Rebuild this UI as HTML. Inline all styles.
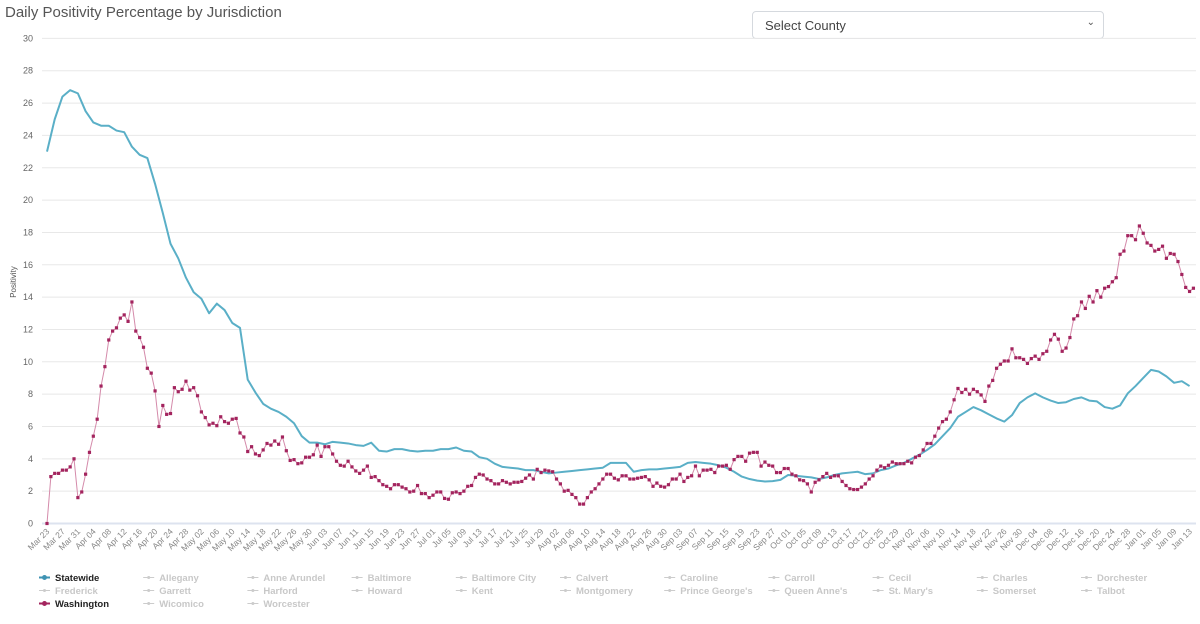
<!DOCTYPE html>
<html><head><meta charset="utf-8">
<style>
body{margin:0;background:#fff;width:1200px;height:624px;overflow:hidden;font-family:"Liberation Sans",sans-serif;position:relative}
#title{position:absolute;left:5px;top:4px;font-size:15px;color:#555}
#sel{position:absolute;left:752px;top:11px;width:352px;height:28px;border:1px solid #d5d9de;border-radius:4px;box-sizing:border-box;font-size:13px;color:#444;padding:6px 12px;background:#fff}
#sel span.c{position:absolute;right:8px;top:5px;font-size:10px;color:#555}
svg{position:absolute;left:0;top:0}
</style></head><body>
<div id="title">Daily Positivity Percentage by Jurisdiction</div>
<div id="sel">Select County<span class="c">&#8964;</span></div>
<svg id="chart" width="1200" height="624"></svg>
<script>
const yTicks=[0,2,4,6,8,10,12,14,16,18,20,22,24,26,28,30];
const xTickLabels=["Mar 23","Mar 27","Mar 31","Apr 04","Apr 08","Apr 12","Apr 16","Apr 20","Apr 24","Apr 28","May 02","May 06","May 10","May 14","May 18","May 22","May 26","May 30","Jun 03","Jun 07","Jun 11","Jun 15","Jun 19","Jun 23","Jun 27","Jul 01","Jul 05","Jul 09","Jul 13","Jul 17","Jul 21","Jul 25","Jul 29","Aug 02","Aug 06","Aug 10","Aug 14","Aug 18","Aug 22","Aug 26","Aug 30","Sep 03","Sep 07","Sep 11","Sep 15","Sep 19","Sep 23","Sep 27","Oct 01","Oct 05","Oct 09","Oct 13","Oct 17","Oct 21","Oct 25","Oct 29","Nov 02","Nov 06","Nov 10","Nov 14","Nov 18","Nov 22","Nov 26","Nov 30","Dec 04","Dec 08","Dec 12","Dec 16","Dec 20","Dec 24","Dec 28","Jan 01","Jan 05","Jan 09","Jan 13"];
// statewide: one value every 2 days starting Mar 23
const statewide=[23.0,25.0,26.4,26.8,26.6,25.5,24.8,24.6,24.6,24.3,24.2,23.3,22.8,22.6,21.0,19.2,17.3,16.4,15.2,14.3,13.9,13.0,13.6,13.2,12.4,12.1,8.9,8.1,7.4,7.1,6.9,6.6,6.2,5.4,5.0,5.0,4.9,5.05,5.0,4.95,4.85,4.8,5.0,4.5,4.45,4.6,4.6,4.5,4.45,4.5,4.5,4.6,4.6,4.7,4.5,4.45,4.1,4.0,3.7,3.5,3.45,3.4,3.3,
3.3,3.2,3.1,3.15,3.2,3.25,3.3,3.35,3.4,3.45,3.75,3.75,3.75,3.2,3.3,3.35,3.35,3.4,3.45,3.5,3.75,3.8,3.75,3.7,3.6,3.45,3.2,2.9,2.75,2.65,2.6,2.62,2.7,3.0,2.95,2.9,2.85,2.75,2.85,3.0,3.1,3.15,3.2,3.05,3.1,3.3,3.4,3.6,3.75,4.0,4.25,4.55,4.9,5.4,5.9,6.6,6.9,7.2,7.0,6.75,6.5,6.3,6.7,7.45,7.8,8.05,7.8,7.6,7.45,7.5,7.7,7.8,7.6,7.55,7.2,7.1,7.3,8.05,8.5,9.0,9.5,9.4,9.1,8.7,8.8,8.5];
// Washington: daily values starting Mar 23
const washington=[0,2.9,3.1,3.1,3.3,3.3,3.5,4.0,1.6,1.95,3.05,4.4,5.4,6.45,8.5,9.7,11.35,11.9,12.1,12.7,12.9,12.5,13.7,11.9,11.5,10.9,9.6,9.3,8.2,6.0,7.3,6.75,6.8,8.4,8.15,8.3,8.8,8.25,8.4,7.9,6.9,6.55,6.1,6.2,6.05,6.6,6.3,6.2,6.45,6.5,5.6,5.35,4.45,4.75,4.3,4.2,4.55,4.95,4.85,5.1,4.9,5.35,4.5,3.9,3.95,3.7,3.75,4.1,4.1,4.25,4.85,4.15,4.75,4.75,4.3,3.85,3.6,
3.55,3.85,3.5,3.25,3.1,3.3,3.55,2.85,2.9,2.65,2.4,2.3,2.15,2.4,2.4,2.25,2.15,1.95,2.0,2.35,1.85,1.85,1.6,1.75,1.95,1.95,1.55,1.5,1.9,1.95,1.85,2.0,2.3,2.35,2.85,3.05,3.0,2.75,2.65,2.45,2.45,2.65,2.55,2.45,2.55,2.55,2.6,2.8,3.0,2.75,3.35,3.15,3.3,3.25,3.2,2.75,2.45,2.0,2.05,1.8,1.6,1.2,1.2,1.6,1.95,2.15,2.45,2.75,3.05,3.05,2.8,2.7,2.95,2.95,2.75,
2.75,2.8,2.85,2.9,2.7,2.3,2.5,2.3,2.25,2.4,2.75,2.75,3.05,2.6,2.85,2.95,3.55,2.95,3.3,3.3,3.35,3.15,3.55,3.55,3.6,3.35,3.95,4.15,4.15,3.85,4.35,4.4,4.4,3.55,3.8,3.6,3.55,3.15,3.15,3.4,3.4,3.05,2.95,2.7,2.65,2.45,1.95,2.55,2.7,2.9,3.1,2.85,2.95,2.95,2.6,2.35,2.15,2.1,2.1,2.25,2.45,2.75,2.95,3.3,3.55,3.45,3.6,3.8,3.7,3.7,3.7,3.85,3.75,4.1,4.2,
4.55,4.95,4.95,5.4,5.9,6.3,6.45,6.9,7.65,8.35,8.1,8.3,8.0,8.3,8.15,7.95,7.55,8.5,8.85,9.6,9.85,10.05,10.05,10.8,10.25,10.25,10.15,9.9,10.2,10.35,10.15,10.5,10.65,11.35,11.7,11.4,10.65,10.85,11.5,12.65,12.85,13.7,13.3,14.05,13.7,14.4,14.0,14.55,14.65,14.95,15.2,16.65,16.85,17.8,17.8,17.55,18.4,17.95,17.35,17.2,16.85,16.95,17.15,16.4,16.7,16.65,16.2,15.4,14.6,14.35,14.55];
const legendRows=[["Statewide","Allegany","Anne Arundel","Baltimore","Baltimore City","Calvert","Caroline","Carroll","Cecil","Charles","Dorchester"],["Frederick","Garrett","Harford","Howard","Kent","Montgomery","Prince George's","Queen Anne's","St. Mary's","Somerset","Talbot"],["Washington","Wicomico","Worcester"]];

const NS="http://www.w3.org/2000/svg";
const svg=document.getElementById('chart');
const X0=47,PXD=3.86,Y0=523.5,PXU=16.17;
const xs=d=>X0+d*PXD, ys=v=>Y0-v*PXU;
function mk(t,a,p){const e=document.createElementNS(NS,t);for(const k in a)e.setAttribute(k,a[k]);(p||svg).appendChild(e);return e;}
yTicks.forEach(v=>{
  const l=mk('line',{x1:42,x2:1196,y1:ys(v),y2:ys(v),stroke:v===0?'#dde3ef':'#e8e8e8','stroke-width':v===0?2:1});
  
  
  const t=mk('text',{x:33,y:ys(v)+3,'text-anchor':'end','font-size':9,fill:'#666'});
  t.textContent=v;
  
  
});
const yt=mk('text',{x:16,y:282,'text-anchor':'middle','font-size':8,fill:'#555',transform:'rotate(-90 16 282)'});
yt.textContent='Positivity';


xTickLabels.forEach((s,i)=>{
  const x=xs(i*4)+3,y=532;
  const t=mk('text',{x:x,y:y,'text-anchor':'end','font-size':8.5,fill:'#888',transform:`rotate(-45 ${x} ${y})`});
  t.textContent=s;
  
  
});
const sp=mk('polyline',{points:statewide.map((v,i)=>xs(i*2)+','+ys(v)).join(' '),fill:'none',stroke:'#5aafc7','stroke-width':2,'stroke-linejoin':'round'});


const wp=mk('polyline',{points:washington.map((v,i)=>xs(i)+','+ys(v)).join(' '),fill:'none',stroke:'#d48aaa','stroke-width':1});


washington.forEach((v,i)=>{
  const r=mk('rect',{x:xs(i)-1.6,y:ys(v)-1.6,width:3.2,height:3.2,fill:'#a3245e'});
  
  
});
legendRows.forEach((row,ri)=>row.forEach((name,ci)=>{
  const tx=55+104.2*ci, ty=581+13*ri;
  const active=name==='Statewide'||name==='Washington';
  const col=name==='Statewide'?'#3f93b3':name==='Washington'?'#a3245e':'#ccc';
  const g=mk('g',{});
  
  
  mk('line',{x1:tx-16,x2:tx-5,y1:ty-3.5,y2:ty-3.5,stroke:col,'stroke-width':active?2:1},g);
  mk('circle',{cx:tx-10.5,cy:ty-3.5,r:active?2.5:1.5,fill:col},g);
  const t=mk('text',{x:tx,y:ty,'font-size':9.5,'font-weight':'bold',fill:active?'#222':'#c8c8c8'},g);
  t.textContent=name;
}));
</script>
</body></html>
